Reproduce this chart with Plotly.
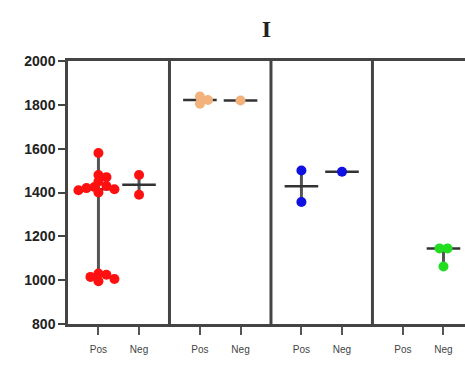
import plotly.graph_objects as go
import numpy as np

# ---- data ----
groups = ["Pos", "Neg"]
panel_colors = ["#ff1010", "#f3b27c", "#1010e0", "#22dd22"]
red_pos = [1580, 1480, 1470, 1450, 1430, 1425, 1420, 1415, 1410, 1400, 1030, 1025, 1015, 1005, 995]
red_neg = [1480, 1390]
peach_pos = [1805, 1822, 1838]
peach_neg = [1820]
blue_pos = [1500, 1357]
blue_neg = [1495]
green_pos = []
green_neg = [1145, 1145, 1062]
panels = [(red_pos, red_neg), (peach_pos, peach_neg), (blue_pos, blue_neg), (green_pos, green_neg)]
y_ticks = [800, 1000, 1200, 1400, 1600, 1800, 2000]

PANEL_W = 2.5
X_MAX = 9.78
PPY = 263 / 1200.0
PPX = 397 / X_MAX
DIAM = 10.0


def swarm(vals):
    placed = []
    offs = []
    cands = [0]
    for k in range(1, 12):
        cands += [k * DIAM * 0.4, -k * DIAM * 0.4]
    for v in vals:
        yp = v * PPY
        for c in cands:
            if all(np.hypot(c - px, yp - py) >= DIAM * 0.6 for px, py in placed):
                placed.append((c, yp))
                offs.append(c)
                break
    # centre points that share the same row
    offs = np.array(offs, dtype=float)
    ys = np.array(vals, dtype=float)
    for v in np.unique(ys):
        m = ys == v
        if m.sum() > 1:
            offs[m] -= offs[m].mean()
    return list(offs / PPX)


fig = go.Figure()
tickvals, ticktext = [], []
for pi, (pos, neg) in enumerate(panels):
    color = panel_colors[pi]
    for gi, vals in enumerate((pos, neg)):
        cx = pi * PANEL_W + 0.75 + gi
        tickvals.append(cx)
        ticktext.append(groups[gi])
        if not vals:
            continue
        med = float(np.median(vals))
        fig.add_trace(go.Scatter(
            x=[cx], y=[med], mode="markers",
            marker=dict(symbol="line-ew-open", size=24, color="#333",
                        line=dict(width=2.5, color="#333")),
            error_y=dict(type="data", symmetric=False, array=[max(vals) - med],
                         arrayminus=[med - min(vals)], width=0, thickness=3, color="#555"),
            showlegend=False, hoverinfo="skip"))
        offs = swarm(vals)
        fig.add_trace(go.Scatter(
            x=[cx + o for o in offs], y=vals, mode="markers",
            marker=dict(size=DIAM, color=color, line=dict(width=0)),
            showlegend=False))

for k in range(1, 4):
    fig.add_shape(type="line", xref="x", yref="paper", x0=k * PANEL_W, x1=k * PANEL_W,
                  y0=0, y1=1, line=dict(color="#444", width=3))

fig.update_layout(
    width=465, height=367,
    margin=dict(l=68, r=0, t=61, b=43),
    plot_bgcolor="white", paper_bgcolor="white",
    title=dict(text="<b>I</b>", x=0.5, xref="paper", xanchor="center",
               y=1 - 29 / 367, yref="container", yanchor="middle",
               font=dict(family="Liberation Serif", size=24, color="#222")),
)
fig.update_xaxes(range=[0, X_MAX], tickvals=tickvals, ticktext=ticktext,
                 showgrid=False, zeroline=False, showline=True, mirror=True,
                 linecolor="#444", linewidth=2.5, ticks="outside", ticklen=8,
                 tickwidth=2, tickcolor="#555", ticklabelstandoff=6,
                 tickfont=dict(family="Liberation Sans", size=10, color="#444"))
fig.update_yaxes(range=[800, 2000], tickvals=y_ticks, ticktext=[f"<b>{v}</b>" for v in y_ticks],
                 showgrid=False, zeroline=False, showline=True, linecolor="#444",
                 linewidth=2.5, ticks="outside", ticklen=7, tickwidth=2, tickcolor="#444",
                 tickfont=dict(family="Liberation Sans", size=14, color="#222"))

fig.write_html("out.html")
